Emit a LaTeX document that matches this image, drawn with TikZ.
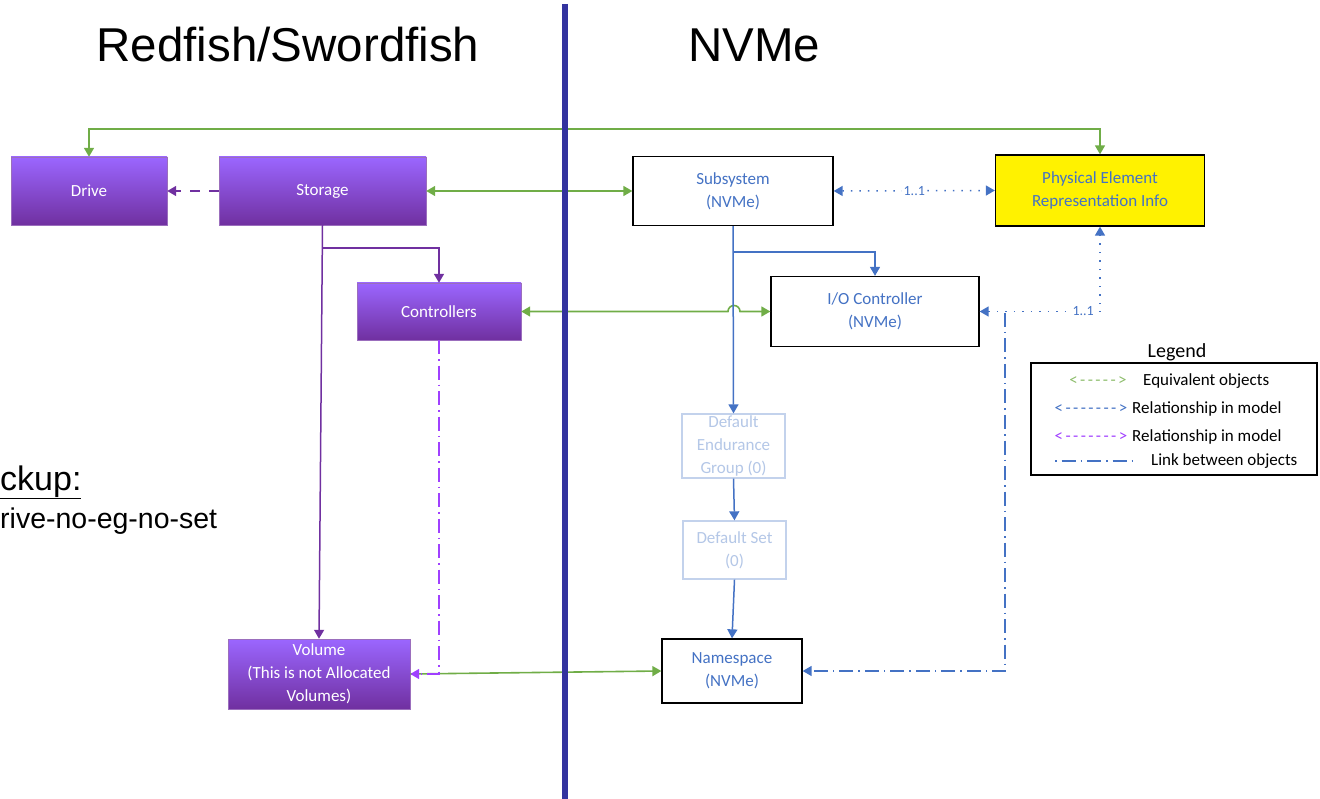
\documentclass[tikz,border=0pt]{standalone}
\usepackage{fontspec}
\setmainfont{Carlito}
\newfontfamily\arialfont{Liberation Sans}
\usepackage{tikz}
\usetikzlibrary{arrows.meta, positioning, calc}
\usepackage{xcolor}

\definecolor{eqvgreen}{HTML}{70AD47}
\definecolor{relblue}{HTML}{4472C4}
\definecolor{relpurple}{HTML}{7030A0}
\definecolor{lnkpurple}{HTML}{A040FF}
\definecolor{rftop}{HTML}{9B66FF}
\definecolor{fadeblue}{HTML}{B4C7E7}
\definecolor{divider}{HTML}{33339F}

% legend arrow drawn with text characters
\newcommand{\legarrow}[1]{<\foreach \i in {1,...,#1}{\kern2.4pt\string-}\kern2.4pt>}

\begin{document}
\begin{tikzpicture}[
    x=1pt, y=-1pt,
    >={Triangle[length=9pt, width=10pt]},
    rfbox/.style={rectangle, draw=relpurple!70, top color=rftop, bottom color=relpurple, text=white, align=center, inner sep=0pt, font=\fontsize{17}{23}\selectfont},
    nvmebox/.style={rectangle, draw=black, line width=1.3pt, fill=white, text=relblue, align=center, inner sep=0pt, font=\fontsize{17}{23}\selectfont},
    fadebox/.style={rectangle, draw=fadeblue!80, line width=1.3pt, fill=white, text=fadeblue, align=center, inner sep=0pt, font=\fontsize{17}{23}\selectfont},
    title/.style={anchor=base, inner sep=0pt, font=\arialfont\fontsize{47.5}{50}\selectfont},
    legtext/.style={anchor=west, inner sep=0pt, font=\fontsize{17}{20}\selectfont},
    equiv/.style={<->, draw=eqvgreen, line width=1.6pt},
    relp/.style={->, draw=relpurple, line width=1.5pt},
    relb/.style={->, draw=relblue, line width=1.5pt},
    onetoone/.style={<->, draw=relblue, line width=1.5pt, dash pattern=on 1.5pt off 7pt},
    linkb/.style={->, draw=relblue, line width=1.5pt, dash pattern=on 14pt off 5pt on 1.5pt off 5pt},
    linkp/.style={->, draw=lnkpurple, line width=1.5pt, dash pattern=on 14pt off 5pt on 1.5pt off 5pt},
    cardlabel/.style={fill=white, text=relblue, inner sep=2pt, font=\fontsize{14}{16}\selectfont}
]
    \useasboundingbox (0,0) rectangle (1320,799);

    % Titles
    \node[title] (rftitle) at (288,62) {Redfish/Swordfish};
    \node[title] (nvmetitle) at (754,62) {NVMe};
    \node[anchor=base west, inner sep=0pt, font=\arialfont\fontsize{34}{36}\selectfont] (backup) at (0,490) {\underline{ckup:}};
    \node[anchor=base west, inner sep=0pt, font=\arialfont\fontsize{28.5}{30}\selectfont] (setup) at (0,528) {rive-no-eg-no-set};

    % Redfish/Swordfish objects
    \node[rfbox, minimum width=156pt, minimum height=68pt] (drive) at (89,191) {Drive};
    \node[rfbox, minimum width=207pt, minimum height=68pt] (storage) at (322.5,191) {Storage};
    \node[rfbox, minimum width=164pt, minimum height=57pt] (ctrl) at (439,311.5) {Controllers};
    \node[rfbox, minimum width=182pt, minimum height=70pt] (volume) at (319,674) {Volume\\(This is not Allocated\\Volumes)};

    % NVMe objects
    \node[nvmebox, minimum width=200pt, minimum height=69pt] (subsys) at (733,191) {Subsystem\\(NVMe)};
    \node[nvmebox, fill=yellow, minimum width=209pt, minimum height=71pt] (peri) at (1100,190.5) {Physical Element\\Representation Info};
    \node[nvmebox, minimum width=208pt, minimum height=70pt] (ioc) at (875,311.5) {I/O Controller\\(NVMe)};
    \node[fadebox, minimum width=103pt, minimum height=64pt] (deg) at (733.5,446) {Default\\Endurance\\Group (0)};
    \node[fadebox, minimum width=103pt, minimum height=58pt] (defset) at (734.5,550) {Default Set\\(0)};
    \node[nvmebox, minimum width=140pt, minimum height=64pt] (ns) at (732,671) {Namespace\\(NVMe)};
    \coordinate (tap) at (1005,313);

    % Equivalent objects
    \draw[equiv] (drive.north) -- ++(0,-28) -| (peri.north);
    \draw[equiv] (storage.east) -- (subsys.west);
    \draw[equiv] (ctrl.east) -- ($(ctrl.east -| subsys.south)+(-5,0)$) arc[start angle=180, end angle=0, radius=6pt] -- (ioc.west);
    \draw[equiv, -{Triangle[length=9pt, width=10pt]}] (volume.east) -- (ns.west);

    % Redfish/Swordfish model
    \draw[relp, dash pattern=on 10pt off 9pt] (storage.west) -- (drive.east);
    \draw[relp] (storage.south) -- (volume.north);
    \draw[relp] ($(storage.south)+(0,23)$) -| (ctrl.north);
    \draw[linkp] (ctrl.south) |- (volume.east);

    % NVMe model
    \draw[relb] (subsys.south) -- (deg.north);
    \draw[relb] ($(subsys.south)+(0,26)$) -| (ioc.north);
    \draw[relb] (deg.south) -- (defset.north);
    \draw[relb] (defset.south) -- (ns.north);
    \draw[onetoone] (subsys.east) -- node[cardlabel] {1..1} (peri.west);
    \draw[onetoone] (ioc.east) -| node[cardlabel, pos=0.43] {1..1} (peri.south);
    \draw[linkb] (tap) |- (ns.east);

    % Legend
    \node[inner sep=0pt, font=\fontsize{20}{22}\selectfont] (legtitle) at (1177,352) {Legend};
    \draw[line width=1.2pt] (1031,363) rectangle (1317,475);
    \node[inner sep=0pt, text=eqvgreen!80, font=\fontsize{17}{20}\selectfont] (legeqv) at (1098,381) {\legarrow{5}};
    \node[legtext] (legeqvtext) at (1143,381) {Equivalent objects};
    \node[inner sep=0pt, text=relblue, font=\fontsize{17}{20}\selectfont] (legrelb) at (1091,409) {\legarrow{7}};
    \node[legtext] (legrelbtext) at (1132,409) {Relationship in model};
    \node[inner sep=0pt, text=lnkpurple, font=\fontsize{17}{20}\selectfont] (legrelp) at (1091,437) {\legarrow{7}};
    \node[legtext] (legrelptext) at (1132,437) {Relationship in model};
    \coordinate (lkA) at (1055,461);
    \coordinate (lkB) at (1133,461);
    \draw[linkb, -, dash pattern=on 1.5pt off 5pt on 14pt off 5pt] (lkA) -- (lkB);
    \node[legtext] (leglnktext) at (1151,461) {Link between objects};

    % Divider
    \draw[divider, line width=6pt] (565,4) -- (565,799);
\end{tikzpicture}
\end{document}
